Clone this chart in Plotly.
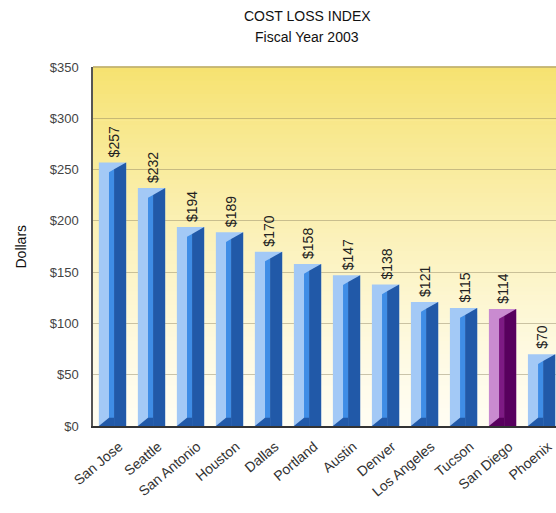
import plotly.graph_objects as go

# Cost loss index by city, fiscal year 2003
cities = ["San Jose", "Seattle", "San Antonio", "Houston", "Dallas", "Portland",
          "Austin", "Denver", "Los Angeles", "Tucson", "San Diego", "Phoenix"]
values = [257, 232, 194, 189, 170, 158, 147, 138, 121, 115, 114, 70]
highlight = "San Diego"

y_ticks = [0, 50, 100, 150, 200, 250, 300, 350]
y_tick_labels = ["$" + str(v) for v in y_ticks]

title_lines = ["COST LOSS INDEX", "Fiscal Year 2003"]

# face colours of the pseudo-3D columns: (front, strip, side)
blue_faces = ("#a3c9f6", "#3f8de6", "#2159a8")
purple_faces = ("#c98bd0", "#7d1a84", "#58005e")

# column geometry in category units
front_l, strip_l, side_l, right = -0.35, -0.09, 0.04, 0.35
bevel = 9.5     # drop of the bevelled top, in dollars
base_rise = 8   # rise of the floor shadow, in dollars
label_nudge = 0.17  # slanted category labels sit a little right of centre

# plot-area geometry in pixels, used to place the free-floating texts
W, H = 556, 513
L_M, T_M, B_M = 93, 67, 87
plot_w = W - L_M
plot_h = H - T_M - B_M


def bevel_y(v, x):
    return v - bevel * (right - x) / (right - strip_l)


fig = go.Figure()

idx = list(range(len(cities)))
faces = [purple_faces if c == highlight else blue_faces for c in cities]

# front faces
fig.add_trace(go.Bar(
    x=idx, y=values, width=right - front_l, offset=front_l,
    marker=dict(color=[f[0] for f in faces], line=dict(width=0)),
    hoverinfo="skip", showlegend=False,
))

for i, v in enumerate(values):
    f = faces[i]
    # bright strip between front and side
    xs = [i + strip_l, i + strip_l, i + side_l, i + side_l, i + strip_l]
    ys = [0, bevel_y(v, strip_l), bevel_y(v, side_l), 0, 0]
    fig.add_trace(go.Scatter(x=xs, y=ys, mode="lines", fill="toself",
                             fillcolor=f[1], line=dict(width=0),
                             hoverinfo="skip", showlegend=False))
    # shaded side face
    xs = [i + side_l, i + side_l, i + right, i + right, i + side_l]
    ys = [0, bevel_y(v, side_l), v, 0, 0]
    fig.add_trace(go.Scatter(x=xs, y=ys, mode="lines", fill="toself",
                             fillcolor=f[2], line=dict(width=0),
                             hoverinfo="skip", showlegend=False))
    # floor shadow at the foot of the column
    xs = [i + front_l, i + strip_l, i + side_l, i + side_l, i + front_l]
    ys = [0, base_rise, base_rise, 0, 0]
    fig.add_trace(go.Scatter(x=xs, y=ys, mode="lines", fill="toself",
                             fillcolor=f[2], line=dict(width=0),
                             hoverinfo="skip", showlegend=False))

# value labels above each column
for i, v in enumerate(values):
    fig.add_annotation(x=i, y=v, text="$" + str(v), textangle=-90,
                       showarrow=False, xanchor="center", yanchor="bottom",
                       xshift=1, yshift=3,
                       font=dict(family="Liberation Sans, Arial", size=14,
                                 color="#222222"))

# yellow-to-white backdrop of the plotting area
top_rgb = (246, 226, 112)
bottom_rgb = (255, 253, 242)
n_bands = 80
shapes = []
for k in range(n_bands):
    t = (k + 0.5) / n_bands  # 0 at bottom, 1 at top
    w = t ** 1.3
    rgb = [round(b + (a - b) * w) for a, b in zip(top_rgb, bottom_rgb)]
    shapes.append(dict(type="rect", xref="x domain", yref="y domain",
                       x0=0, x1=1, y0=k / n_bands, y1=(k + 1) / n_bands + 0.002,
                       fillcolor="rgb({},{},{})".format(*rgb),
                       line=dict(width=0), layer="below"))
shapes.append(dict(type="line", xref="x domain", yref="y domain",
                   x0=0, x1=1, y0=1, y1=1,
                   line=dict(color="#9a8d6c", width=1), layer="above"))

fig.update_layout(
    width=W, height=H,
    margin=dict(l=L_M, r=0, t=T_M, b=B_M),
    paper_bgcolor="white", plot_bgcolor="rgba(0,0,0,0)",
    font=dict(family="Liberation Sans, Arial", size=12, color="#333333"),
    shapes=shapes,
    showlegend=False,
)

# two-line chart title
for text, cy in zip(title_lines, [16, 37]):
    fig.add_annotation(text=text, showarrow=False,
                       xref="paper", yref="paper",
                       x=(307 - L_M) / plot_w, y=(H - B_M - cy) / plot_h,
                       xanchor="center", yanchor="middle",
                       font=dict(size=14, color="#111111"))

fig.add_annotation(text="Dollars", textangle=-90, showarrow=False,
                   xref="paper", yref="paper", x=(20 - L_M) / plot_w, y=0.5,
                   xanchor="center", yanchor="middle",
                   font=dict(size=14, color="#111111"))

fig.update_xaxes(
    range=[-0.5, 11.37], tickvals=[i + label_nudge for i in idx],
    ticktext=cities, tickangle=-40,
    showgrid=False, zeroline=False, showline=True, linecolor="#333333",
    linewidth=2, ticks="", ticklabelstandoff=5,
    tickfont=dict(size=14, color="#333333"),
)
fig.update_yaxes(
    range=[0, 350], tickvals=y_ticks, ticktext=y_tick_labels,
    showgrid=True, gridcolor="rgba(140,128,95,0.45)", gridwidth=1,
    zeroline=False, showline=True, linecolor="#555555", linewidth=1.5,
    ticks="", ticklabelstandoff=10, tickfont=dict(size=13, color="#444444"),
)

fig.write_html("out.html")
